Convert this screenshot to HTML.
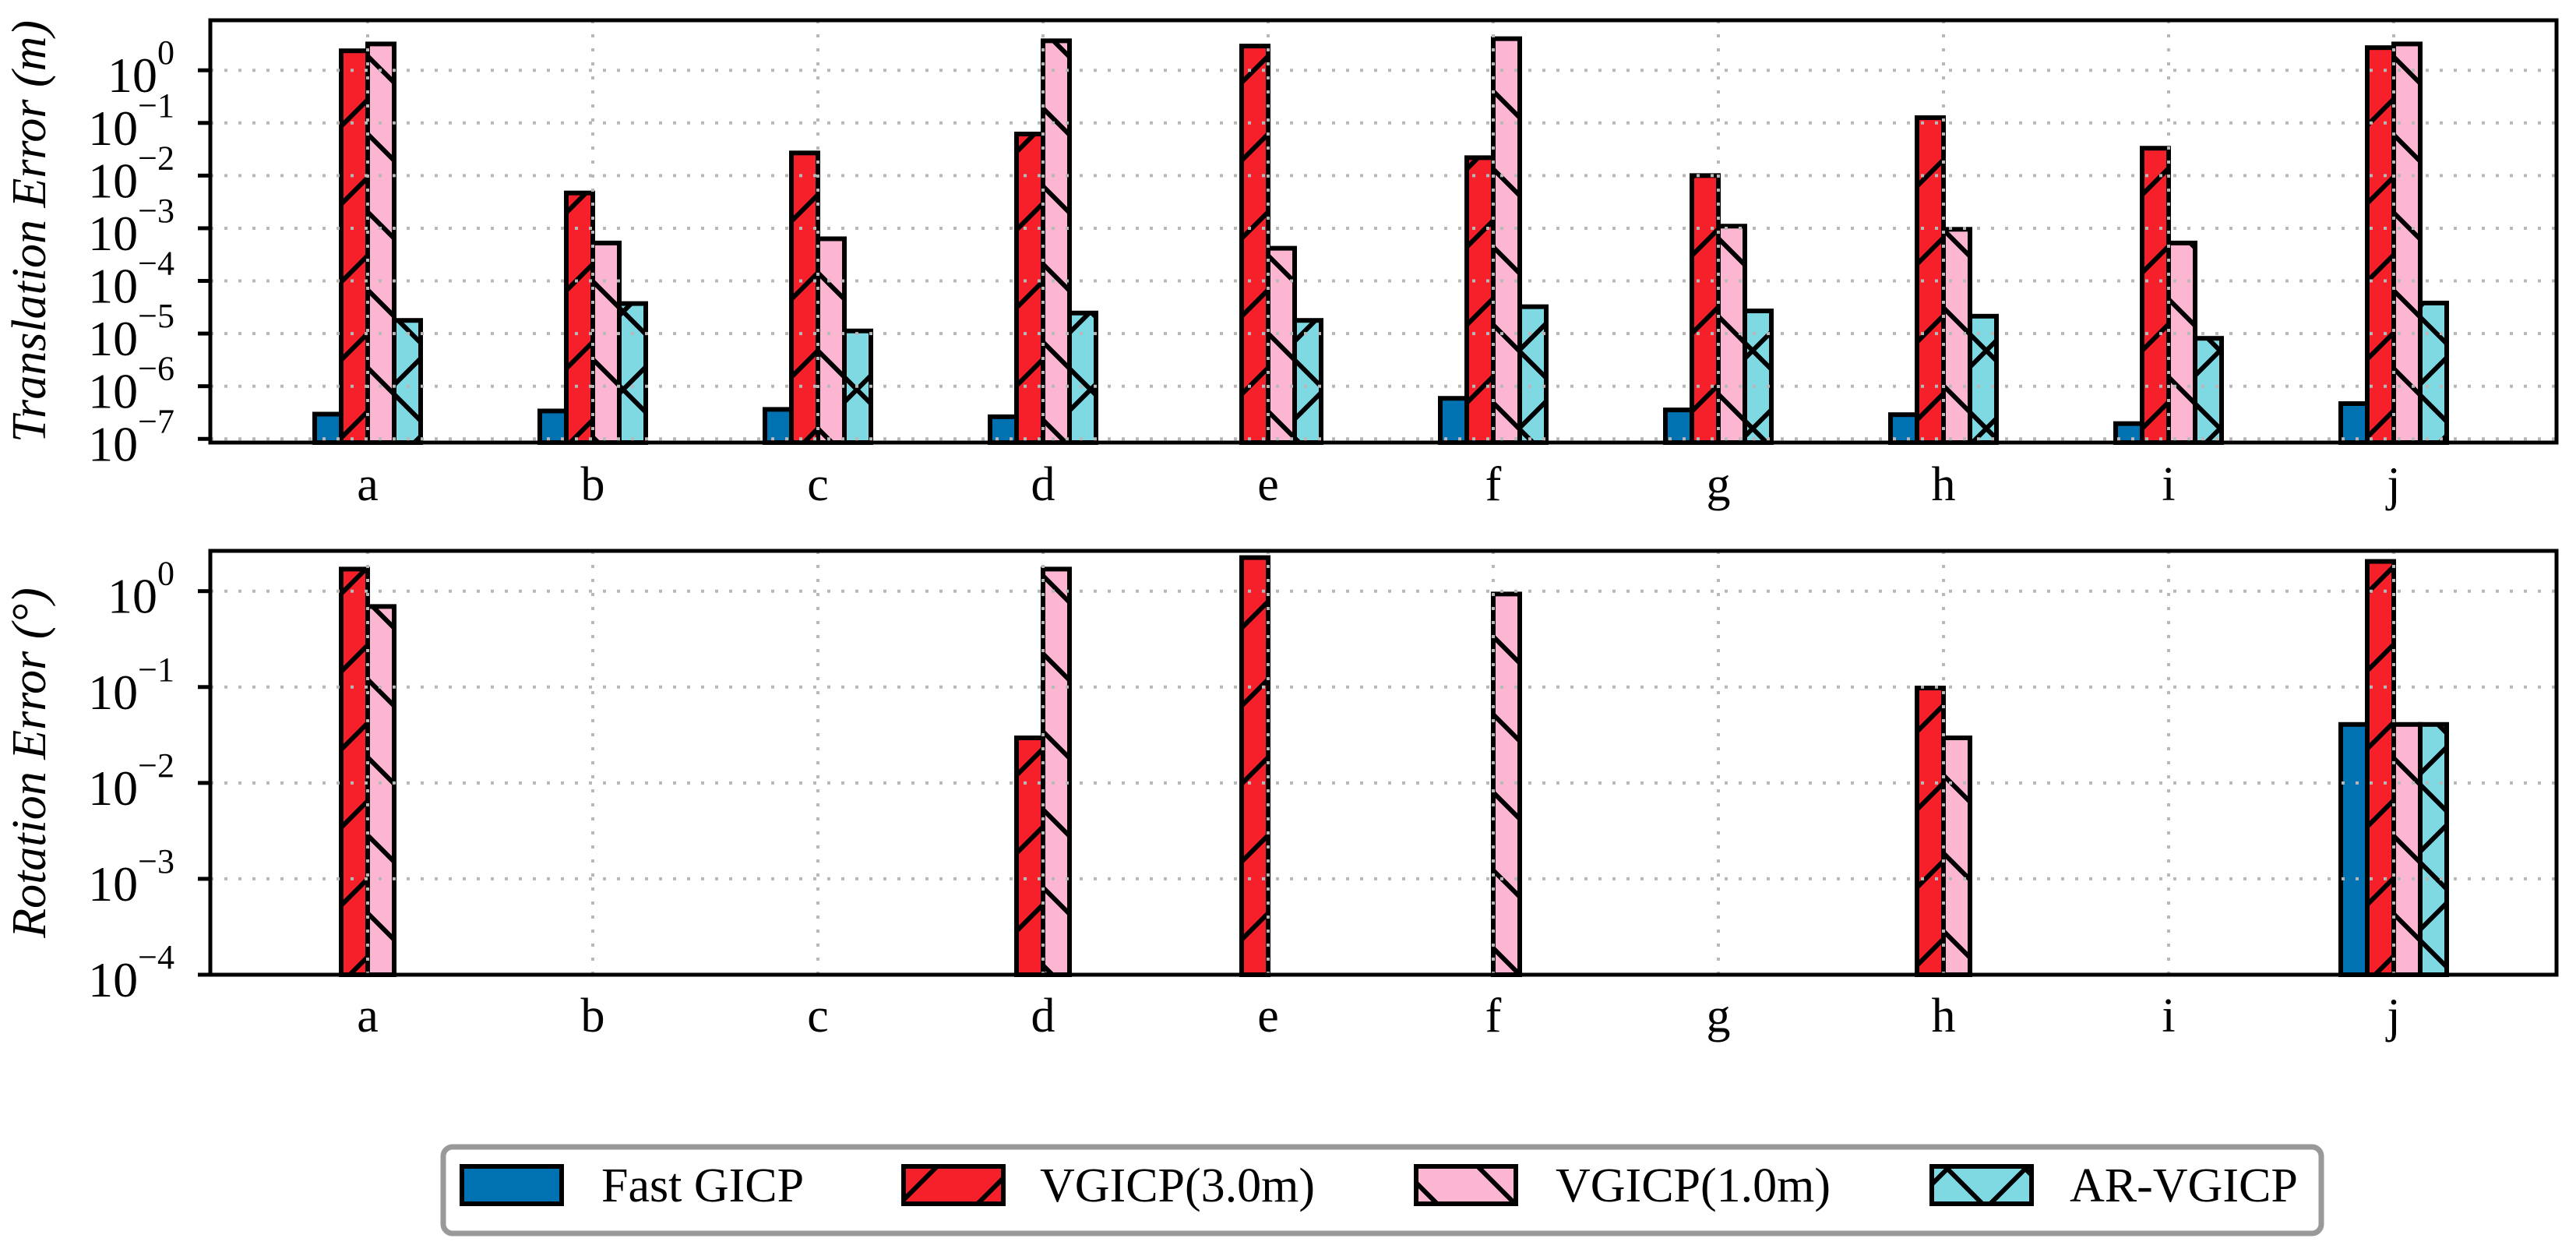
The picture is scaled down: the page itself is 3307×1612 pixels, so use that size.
<!DOCTYPE html>
<html><head><meta charset="utf-8"><style>
html,body{margin:0;padding:0;background:#fff;}
svg{display:block;font-family:"Liberation Serif","DejaVu Serif",serif;}
</style></head><body>
<svg id="chart" width="3307" height="1612" viewBox="0 0 3307 1612" xmlns="http://www.w3.org/2000/svg">
<defs>
<pattern id="hatch-fwd" patternUnits="userSpaceOnUse" width="100" height="100">
<path d="M-25,25 L25,-25 M0,100 L100,0 M75,125 L125,75" stroke="#000" stroke-width="6"/>
</pattern>
<pattern id="hatch-back" patternUnits="userSpaceOnUse" width="100" height="100">
<path d="M-25,75 L25,125 M0,0 L100,100 M75,-25 L125,25" stroke="#000" stroke-width="6"/>
</pattern>
<pattern id="hatch-x" patternUnits="userSpaceOnUse" width="100" height="100">
<path d="M-25,25 L25,-25 M0,100 L100,0 M75,125 L125,75 M-25,75 L25,125 M0,0 L100,100 M75,-25 L125,25" stroke="#000" stroke-width="6"/>
</pattern>
</defs>
<g id="top"></g>
<g id="bot"></g>
<g id="legend"></g>
</svg>
<script>
const categories = ["a","b","c","d","e","f","g","h","i","j"];
const seriesNames = ["Fast GICP","VGICP(3.0m)","VGICP(1.0m)","AR-VGICP"];
// log10 of translation error (m)
const transFast = [-6.53,-6.47,-6.44,-6.58,null,-6.23,-6.45,-6.54,-6.71,-6.33];
const transV3 = [0.37,-2.33,-1.57,-1.21,0.46,-1.66,-2.0,-0.90,-1.48,0.43];
const transV1 = [0.50,-3.28,-3.20,0.56,-3.38,0.60,-2.96,-3.02,-3.28,0.50];
const transAR = [-4.75,-4.43,-4.95,-4.61,-4.75,-4.49,-4.57,-4.67,-5.09,-4.42];
// log10 of rotation error (deg)
const rotFast = [null,null,null,null,null,null,null,null,null,-1.39];
const rotV3 = [0.23,null,null,-1.53,0.35,null,null,-1.01,null,0.31];
const rotV1 = [-0.16,null,null,0.23,null,-0.03,null,-1.53,null,-1.39];
const rotAR = [null,null,null,null,null,null,null,null,null,-1.39];
const transTicks = [0,-1,-2,-3,-4,-5,-6,-7];
const rotTicks = [0,-1,-2,-3,-4];

const NS="http://www.w3.org/2000/svg";
const fills=["#0072b2","#f5202a","#fcb6d2","#7ed9e3"];
const hatches=[null,"url(#hatch-fwd)","url(#hatch-back)","url(#hatch-x)"];
const X0=270,X1=3282,firstC=472,step=289,bw=34;
function xC(i){return firstC+i*step;}
function mk(tag,attrs,parent){const e=document.createElementNS(NS,tag);for(const k in attrs)e.setAttribute(k,attrs[k]);parent.appendChild(e);return e;}

function panel(g,top,bottom,yMax,yMin,ticks,series,title,labelY){
  const y=v=>top+(yMax-v)/(yMax-yMin)*(bottom-top);
  series.forEach((arr,s)=>{
    arr.forEach((v,i)=>{
      if(v===null)return;
      const x=xC(i)+(s-2)*bw, yt=y(v);
      const r=mk('rect',{x:x,y:yt,width:bw,height:bottom-yt,fill:fills[s]},g);
      
      
      if(hatches[s]){const h=mk('rect',{x:x,y:yt,width:bw,height:bottom-yt,fill:hatches[s]},g);
        
        }
      const o=mk('rect',{x:x,y:yt,width:bw,height:bottom-yt,fill:'none',stroke:'#000','stroke-width':6},g);
      
      
    });
  });
  ticks.forEach(t=>{const l=mk('line',{x1:X0,x2:X1,y1:y(t),y2:y(t),stroke:'#b8b8b8','stroke-width':4,'stroke-dasharray':'4 14'},g);
    
    });
  categories.forEach((c,i)=>{const l=mk('line',{x1:xC(i),x2:xC(i),y1:top,y2:bottom,stroke:'#b8b8b8','stroke-width':4,'stroke-dasharray':'4 14'},g);
    
    
    const t=mk('text',{x:xC(i),y:labelY,'font-size':62,'text-anchor':'middle'},g);t.textContent=c;
    
    });
  ticks.forEach(t=>{const yy=y(t);
    mk('line',{x1:254,x2:X0,y1:yy,y2:yy,stroke:'#000','stroke-width':5},g);
    const tx=mk('text',{x:224,y:yy+28,'font-size':64,'text-anchor':'end'},g);
    
    
    tx.appendChild(document.createTextNode('10'));
    const sp=document.createElementNS(NS,'tspan');sp.setAttribute('dy','-36');sp.setAttribute('font-size','44');
    sp.textContent=(t===0?'0':'\u2212'+(-t));tx.appendChild(sp);});
  const fr=mk('rect',{x:X0,y:top,width:X1-X0,height:bottom-top,fill:'none',stroke:'#000','stroke-width':5},g);
  
  
  const cy=(top+bottom)/2;
  const tt=mk('text',{x:58,y:cy,'font-size':62,'font-style':'italic','text-anchor':'middle',transform:`rotate(-90 58 ${cy})`},g);
  tt.textContent=title;
  
  
}
panel(document.getElementById('top'),26,568,0.95,-7.07,transTicks,[transFast,transV3,transV1,transAR],'Translation Error (m)',642);
panel(document.getElementById('bot'),707,1251,0.42,-4,rotTicks,[rotFast,rotV3,rotV1,rotAR],'Rotation Error (\u00B0)',1324);

const lg=document.getElementById('legend');
mk('rect',{x:569,y:1472,width:2411,height:111,rx:12,fill:'#fff',stroke:'#999','stroke-width':7},lg);
const hx=[593,1160,1818,2480], tx=[772,1335,1997,2657];
seriesNames.forEach((n,s)=>{
  const r=mk('rect',{x:hx[s],y:1497,width:128,height:48,fill:fills[s]},lg);
  
  
  if(hatches[s]) mk('rect',{x:hx[s],y:1497,width:128,height:48,fill:hatches[s]},lg);
  mk('rect',{x:hx[s],y:1497,width:128,height:48,fill:'none',stroke:'#000','stroke-width':6},lg);
  const t=mk('text',{x:tx[s],y:1542,'font-size':62},lg);t.textContent=n;
  
  
});
</script>
</body></html>
